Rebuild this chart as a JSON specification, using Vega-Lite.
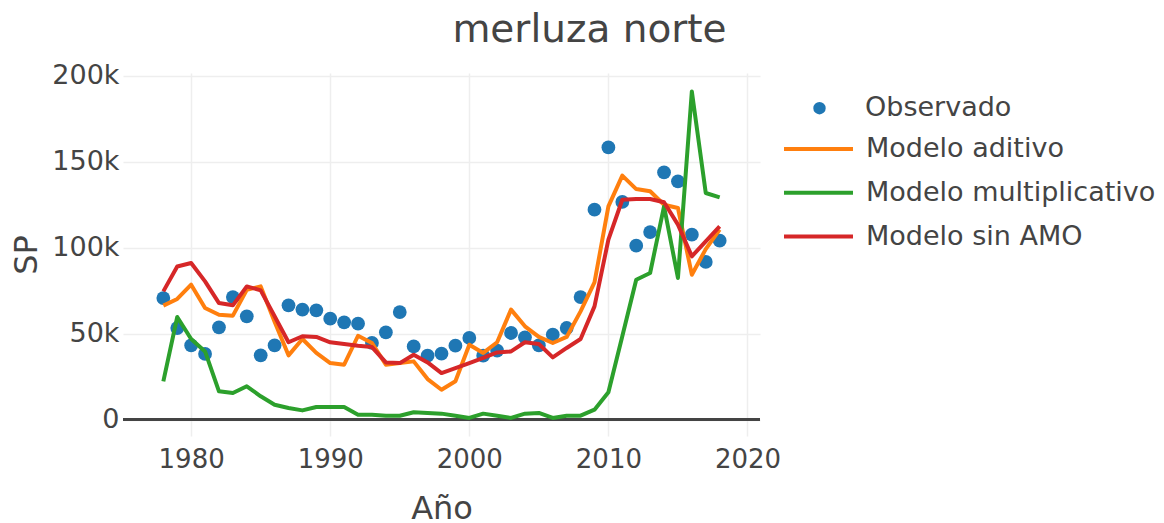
{
  "$schema": "https://vega.github.io/schema/vega-lite/v6.json",
  "width": 637,
  "height": 363,
  "autosize": {"type": "none"},
  "padding": {"left": 123, "top": 73, "right": 404, "bottom": 87},
  "background": "white",
  "title": {
    "text": "merluza norte",
    "font": "DejaVu Sans",
    "fontSize": 39,
    "fontWeight": "normal",
    "color": "#444444",
    "anchor": "middle",
    "frame": "group",
    "dx": 148,
    "dy": 19.5,
    "baseline": "alphabetic",
    "offset": 0
  },
  "config": {
    "view": {"stroke": null},
    "font": "DejaVu Sans",
    "axis": {
      "labelColor": "#444444",
      "titleColor": "#444444",
      "titleFontWeight": "normal",
      "gridColor": "#eeeeee",
      "gridWidth": 1.5,
      "domain": false,
      "ticks": false
    },
    "legend": {
      "labelFontSize": 27,
      "labelColor": "#444444",
      "labelLimit": 400,
      "padding": 0,
      "title": null
    }
  },
  "data": {
    "values": [
      {"Año": 1978, "serie": "Observado", "SP": 70700},
      {"Año": 1979, "serie": "Observado", "SP": 53300},
      {"Año": 1980, "serie": "Observado", "SP": 43200},
      {"Año": 1981, "serie": "Observado", "SP": 38200},
      {"Año": 1982, "serie": "Observado", "SP": 53700},
      {"Año": 1983, "serie": "Observado", "SP": 71300},
      {"Año": 1984, "serie": "Observado", "SP": 60100},
      {"Año": 1985, "serie": "Observado", "SP": 37400},
      {"Año": 1986, "serie": "Observado", "SP": 43200},
      {"Año": 1987, "serie": "Observado", "SP": 66500},
      {"Año": 1988, "serie": "Observado", "SP": 64000},
      {"Año": 1989, "serie": "Observado", "SP": 63600},
      {"Año": 1990, "serie": "Observado", "SP": 58700},
      {"Año": 1991, "serie": "Observado", "SP": 56600},
      {"Año": 1992, "serie": "Observado", "SP": 55800},
      {"Año": 1993, "serie": "Observado", "SP": 44600},
      {"Año": 1994, "serie": "Observado", "SP": 50800},
      {"Año": 1995, "serie": "Observado", "SP": 62600},
      {"Año": 1996, "serie": "Observado", "SP": 42600},
      {"Año": 1997, "serie": "Observado", "SP": 37200},
      {"Año": 1998, "serie": "Observado", "SP": 38400},
      {"Año": 1999, "serie": "Observado", "SP": 43000},
      {"Año": 2000, "serie": "Observado", "SP": 47500},
      {"Año": 2001, "serie": "Observado", "SP": 37200},
      {"Año": 2002, "serie": "Observado", "SP": 40100},
      {"Año": 2003, "serie": "Observado", "SP": 50400},
      {"Año": 2004, "serie": "Observado", "SP": 47900},
      {"Año": 2005, "serie": "Observado", "SP": 43200},
      {"Año": 2006, "serie": "Observado", "SP": 49400},
      {"Año": 2007, "serie": "Observado", "SP": 53300},
      {"Año": 2008, "serie": "Observado", "SP": 71300},
      {"Año": 2009, "serie": "Observado", "SP": 122100},
      {"Año": 2010, "serie": "Observado", "SP": 158300},
      {"Año": 2011, "serie": "Observado", "SP": 126600},
      {"Año": 2012, "serie": "Observado", "SP": 101200},
      {"Año": 2013, "serie": "Observado", "SP": 109100},
      {"Año": 2014, "serie": "Observado", "SP": 143800},
      {"Año": 2015, "serie": "Observado", "SP": 138600},
      {"Año": 2016, "serie": "Observado", "SP": 107600},
      {"Año": 2017, "serie": "Observado", "SP": 91700},
      {"Año": 2018, "serie": "Observado", "SP": 104100},

      {"Año": 1978, "serie": "Modelo aditivo", "SP": 66300},
      {"Año": 1979, "serie": "Modelo aditivo", "SP": 70200},
      {"Año": 1980, "serie": "Modelo aditivo", "SP": 78500},
      {"Año": 1981, "serie": "Modelo aditivo", "SP": 64900},
      {"Año": 1982, "serie": "Modelo aditivo", "SP": 61000},
      {"Año": 1983, "serie": "Modelo aditivo", "SP": 60500},
      {"Año": 1984, "serie": "Modelo aditivo", "SP": 75500},
      {"Año": 1985, "serie": "Modelo aditivo", "SP": 77500},
      {"Año": 1986, "serie": "Modelo aditivo", "SP": 57000},
      {"Año": 1987, "serie": "Modelo aditivo", "SP": 37400},
      {"Año": 1988, "serie": "Modelo aditivo", "SP": 46900},
      {"Año": 1989, "serie": "Modelo aditivo", "SP": 38800},
      {"Año": 1990, "serie": "Modelo aditivo", "SP": 32900},
      {"Año": 1991, "serie": "Modelo aditivo", "SP": 32000},
      {"Año": 1992, "serie": "Modelo aditivo", "SP": 48800},
      {"Año": 1993, "serie": "Modelo aditivo", "SP": 44600},
      {"Año": 1994, "serie": "Modelo aditivo", "SP": 32000},
      {"Año": 1995, "serie": "Modelo aditivo", "SP": 32900},
      {"Año": 1996, "serie": "Modelo aditivo", "SP": 33900},
      {"Año": 1997, "serie": "Modelo aditivo", "SP": 23600},
      {"Año": 1998, "serie": "Modelo aditivo", "SP": 17400},
      {"Año": 1999, "serie": "Modelo aditivo", "SP": 22300},
      {"Año": 2000, "serie": "Modelo aditivo", "SP": 43600},
      {"Año": 2001, "serie": "Modelo aditivo", "SP": 38800},
      {"Año": 2002, "serie": "Modelo aditivo", "SP": 45000},
      {"Año": 2003, "serie": "Modelo aditivo", "SP": 64000},
      {"Año": 2004, "serie": "Modelo aditivo", "SP": 54300},
      {"Año": 2005, "serie": "Modelo aditivo", "SP": 48100},
      {"Año": 2006, "serie": "Modelo aditivo", "SP": 44600},
      {"Año": 2007, "serie": "Modelo aditivo", "SP": 48100},
      {"Año": 2008, "serie": "Modelo aditivo", "SP": 63000},
      {"Año": 2009, "serie": "Modelo aditivo", "SP": 79800},
      {"Año": 2010, "serie": "Modelo aditivo", "SP": 124000},
      {"Año": 2011, "serie": "Modelo aditivo", "SP": 141900},
      {"Año": 2012, "serie": "Modelo aditivo", "SP": 134100},
      {"Año": 2013, "serie": "Modelo aditivo", "SP": 132800},
      {"Año": 2014, "serie": "Modelo aditivo", "SP": 125000},
      {"Año": 2015, "serie": "Modelo aditivo", "SP": 123100},
      {"Año": 2016, "serie": "Modelo aditivo", "SP": 84300},
      {"Año": 2017, "serie": "Modelo aditivo", "SP": 99200},
      {"Año": 2018, "serie": "Modelo aditivo", "SP": 110500},

      {"Año": 1978, "serie": "Modelo multiplicativo", "SP": 22300},
      {"Año": 1979, "serie": "Modelo multiplicativo", "SP": 59700},
      {"Año": 1980, "serie": "Modelo multiplicativo", "SP": 46900},
      {"Año": 1981, "serie": "Modelo multiplicativo", "SP": 39700},
      {"Año": 1982, "serie": "Modelo multiplicativo", "SP": 16500},
      {"Año": 1983, "serie": "Modelo multiplicativo", "SP": 15500},
      {"Año": 1984, "serie": "Modelo multiplicativo", "SP": 19400},
      {"Año": 1985, "serie": "Modelo multiplicativo", "SP": 13600},
      {"Año": 1986, "serie": "Modelo multiplicativo", "SP": 8700},
      {"Año": 1987, "serie": "Modelo multiplicativo", "SP": 6800},
      {"Año": 1988, "serie": "Modelo multiplicativo", "SP": 5400},
      {"Año": 1989, "serie": "Modelo multiplicativo", "SP": 7400},
      {"Año": 1990, "serie": "Modelo multiplicativo", "SP": 7400},
      {"Año": 1991, "serie": "Modelo multiplicativo", "SP": 7400},
      {"Año": 1992, "serie": "Modelo multiplicativo", "SP": 2900},
      {"Año": 1993, "serie": "Modelo multiplicativo", "SP": 2900},
      {"Año": 1994, "serie": "Modelo multiplicativo", "SP": 2300},
      {"Año": 1995, "serie": "Modelo multiplicativo", "SP": 2300},
      {"Año": 1996, "serie": "Modelo multiplicativo", "SP": 4300},
      {"Año": 1997, "serie": "Modelo multiplicativo", "SP": 3900},
      {"Año": 1998, "serie": "Modelo multiplicativo", "SP": 3500},
      {"Año": 1999, "serie": "Modelo multiplicativo", "SP": 2300},
      {"Año": 2000, "serie": "Modelo multiplicativo", "SP": 1000},
      {"Año": 2001, "serie": "Modelo multiplicativo", "SP": 3500},
      {"Año": 2002, "serie": "Modelo multiplicativo", "SP": 2300},
      {"Año": 2003, "serie": "Modelo multiplicativo", "SP": 1000},
      {"Año": 2004, "serie": "Modelo multiplicativo", "SP": 3500},
      {"Año": 2005, "serie": "Modelo multiplicativo", "SP": 3900},
      {"Año": 2006, "serie": "Modelo multiplicativo", "SP": 1000},
      {"Año": 2007, "serie": "Modelo multiplicativo", "SP": 2300},
      {"Año": 2008, "serie": "Modelo multiplicativo", "SP": 2300},
      {"Año": 2009, "serie": "Modelo multiplicativo", "SP": 5800},
      {"Año": 2010, "serie": "Modelo multiplicativo", "SP": 15900},
      {"Año": 2011, "serie": "Modelo multiplicativo", "SP": 48500},
      {"Año": 2012, "serie": "Modelo multiplicativo", "SP": 81400},
      {"Año": 2013, "serie": "Modelo multiplicativo", "SP": 85300},
      {"Año": 2014, "serie": "Modelo multiplicativo", "SP": 124000},
      {"Año": 2015, "serie": "Modelo multiplicativo", "SP": 82400},
      {"Año": 2016, "serie": "Modelo multiplicativo", "SP": 190900},
      {"Año": 2017, "serie": "Modelo multiplicativo", "SP": 131800},
      {"Año": 2018, "serie": "Modelo multiplicativo", "SP": 129300},

      {"Año": 1978, "serie": "Modelo sin AMO", "SP": 74600},
      {"Año": 1979, "serie": "Modelo sin AMO", "SP": 89100},
      {"Año": 1980, "serie": "Modelo sin AMO", "SP": 91100},
      {"Año": 1981, "serie": "Modelo sin AMO", "SP": 80400},
      {"Año": 1982, "serie": "Modelo sin AMO", "SP": 67800},
      {"Año": 1983, "serie": "Modelo sin AMO", "SP": 66500},
      {"Año": 1984, "serie": "Modelo sin AMO", "SP": 77500},
      {"Año": 1985, "serie": "Modelo sin AMO", "SP": 75200},
      {"Año": 1986, "serie": "Modelo sin AMO", "SP": 60100},
      {"Año": 1987, "serie": "Modelo sin AMO", "SP": 45000},
      {"Año": 1988, "serie": "Modelo sin AMO", "SP": 48500},
      {"Año": 1989, "serie": "Modelo sin AMO", "SP": 48100},
      {"Año": 1990, "serie": "Modelo sin AMO", "SP": 45000},
      {"Año": 1991, "serie": "Modelo sin AMO", "SP": 44000},
      {"Año": 1992, "serie": "Modelo sin AMO", "SP": 43000},
      {"Año": 1993, "serie": "Modelo sin AMO", "SP": 42200},
      {"Año": 1994, "serie": "Modelo sin AMO", "SP": 33300},
      {"Año": 1995, "serie": "Modelo sin AMO", "SP": 32900},
      {"Año": 1996, "serie": "Modelo sin AMO", "SP": 37800},
      {"Año": 1997, "serie": "Modelo sin AMO", "SP": 33300},
      {"Año": 1998, "serie": "Modelo sin AMO", "SP": 27100},
      {"Año": 1999, "serie": "Modelo sin AMO", "SP": 30000},
      {"Año": 2000, "serie": "Modelo sin AMO", "SP": 32900},
      {"Año": 2001, "serie": "Modelo sin AMO", "SP": 35900},
      {"Año": 2002, "serie": "Modelo sin AMO", "SP": 39100},
      {"Año": 2003, "serie": "Modelo sin AMO", "SP": 39700},
      {"Año": 2004, "serie": "Modelo sin AMO", "SP": 45000},
      {"Año": 2005, "serie": "Modelo sin AMO", "SP": 44000},
      {"Año": 2006, "serie": "Modelo sin AMO", "SP": 36200},
      {"Año": 2007, "serie": "Modelo sin AMO", "SP": 41700},
      {"Año": 2008, "serie": "Modelo sin AMO", "SP": 46900},
      {"Año": 2009, "serie": "Modelo sin AMO", "SP": 65900},
      {"Año": 2010, "serie": "Modelo sin AMO", "SP": 104700},
      {"Año": 2011, "serie": "Modelo sin AMO", "SP": 127900},
      {"Año": 2012, "serie": "Modelo sin AMO", "SP": 128300},
      {"Año": 2013, "serie": "Modelo sin AMO", "SP": 128300},
      {"Año": 2014, "serie": "Modelo sin AMO", "SP": 126400},
      {"Año": 2015, "serie": "Modelo sin AMO", "SP": 113400},
      {"Año": 2016, "serie": "Modelo sin AMO", "SP": 95000},
      {"Año": 2017, "serie": "Modelo sin AMO", "SP": 103700},
      {"Año": 2018, "serie": "Modelo sin AMO", "SP": 112400}
    ]
  },
  "encoding": {
    "x": {
      "field": "Año",
      "type": "quantitative",
      "title": "Año",
      "scale": {"domain": [1975.1, 2020.9], "nice": false, "zero": false},
      "axis": {
        "values": [1980, 1990, 2000, 2010, 2020],
        "format": "d",
        "labelFontSize": 26,
        "labelPadding": 10,
        "titleFontSize": 32,
        "titlePadding": 21
      }
    },
    "y": {
      "field": "SP",
      "type": "quantitative",
      "title": "SP",
      "scale": {"domain": [-9500, 201600], "nice": false, "zero": false},
      "axis": {
        "values": [0, 50000, 100000, 150000, 200000],
        "labelExpr": "datum.value === 0 ? '0' : (datum.value / 1000) + 'k'",
        "labelFontSize": 27,
        "labelPadding": 4,
        "titleFontSize": 32,
        "titlePadding": 8
      }
    }
  },
  "layer": [
    {
      "mark": {"type": "rule", "color": "#444444", "strokeWidth": 2},
      "encoding": {"y": {"datum": 0}, "x": null}
    },
    {
      "transform": [{"filter": "datum.serie === 'Observado'"}],
      "mark": {"type": "point", "filled": true, "opacity": 1, "size": 190, "strokeWidth": 0},
      "encoding": {
        "fill": {
          "field": "serie",
          "type": "nominal",
          "scale": {"domain": ["Observado"], "range": ["#1f77b4"]},
          "legend": {
            "orient": "none",
            "legendX": 683,
            "legendY": 21.7,
            "symbolType": "circle",
            "symbolSize": 154,
            "symbolStrokeWidth": 0,
            "symbolOpacity": 1,
            "labelOffset": 32
          }
        }
      }
    },
    {
      "transform": [{"filter": "datum.serie !== 'Observado'"}],
      "mark": {"type": "line", "strokeWidth": 4, "strokeJoin": "round"},
      "encoding": {
        "stroke": {
          "field": "serie",
          "type": "nominal",
          "scale": {
            "domain": ["Modelo aditivo", "Modelo multiplicativo", "Modelo sin AMO"],
            "range": ["#ff7f0e", "#2ca02c", "#d62728"]
          },
          "legend": {
            "orient": "none",
            "legendX": 676,
            "legendY": 56.5,
            "symbolType": "M-2,0H2",
            "symbolSize": 1190,
            "symbolStrokeWidth": 4,
            "symbolFillColor": "transparent",
            "symbolOpacity": 1,
            "labelOffset": 28,
            "rowPadding": 10.75
          }
        }
      }
    }
  ],
  "resolve": {"scale": {"fill": "independent", "stroke": "independent"}, "legend": {"fill": "independent", "stroke": "independent"}}
}
